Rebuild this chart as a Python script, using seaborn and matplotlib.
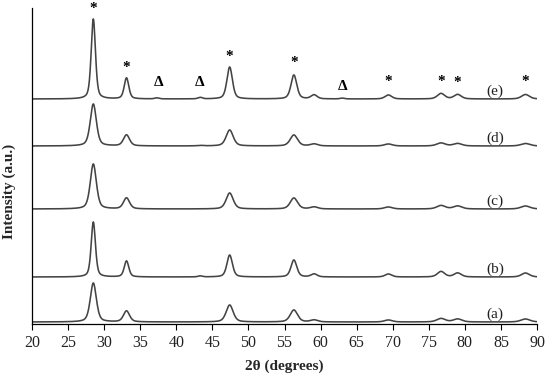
import numpy as np
import pandas as pd
import matplotlib
matplotlib.use("Agg")
import matplotlib.pyplot as plt
import seaborn as sns

# ---- data (intensity in arbitrary units) ----
samples = ["(a)", "(b)", "(c)", "(d)", "(e)"]
offsets = [2, 47, 115, 178, 225]
peak_pos = [28.5, 33.1, 47.4, 56.3, 59.1, 69.4, 76.7, 79.0, 88.4, 37.3, 43.3, 63.0]
height_a = [39, 11, 17, 12, 2, 2, 3.5, 3, 3, 0, 0, 0]
height_b = [55, 16, 22, 17, 3, 3, 5.5, 4, 4, 0, 1, 0]
height_c = [45, 11, 16, 11, 2, 2, 3.5, 3, 3, 0, 0, 0]
height_d = [42, 11, 16, 11, 2, 2, 3, 2.5, 2.5, 0, 0.5, 0]
height_e = [80, 21, 32, 24, 4, 4, 5.5, 4.5, 4.5, 1, 1.5, 0.8]
fwhm_a = [1.0, 1.0, 1.15, 1.2, 1.2, 1.3, 1.4, 1.4, 1.5, 1.0, 1.0, 1.0]
fwhm_b = [0.7, 0.75, 0.9, 0.95, 1.0, 1.1, 1.2, 1.2, 1.3, 0.7, 0.7, 0.7]
fwhm_c = [1.0, 1.0, 1.15, 1.2, 1.2, 1.3, 1.4, 1.4, 1.5, 1.0, 1.0, 1.0]
fwhm_d = [1.0, 1.0, 1.15, 1.2, 1.2, 1.3, 1.4, 1.4, 1.5, 1.0, 1.0, 1.0]
fwhm_e = [0.7, 0.75, 0.9, 0.95, 1.0, 1.1, 1.2, 1.2, 1.3, 0.7, 0.7, 0.7]
heights = [height_a, height_b, height_c, height_d, height_e]
fwhms = [fwhm_a, fwhm_b, fwhm_c, fwhm_d, fwhm_e]

star_pos = [28.5, 33.1, 47.4, 56.3, 69.4, 76.7, 79.0, 88.3]
star_y = [315, 256, 267, 261, 242, 242, 241, 242]
delta_pos = [37.5, 43.2, 63.1]
delta_y = [241, 241, 237]

xticks = list(range(20, 95, 5))

# ---- build profiles from peak parameters ----
x = np.linspace(20, 90, 1400)
frames = []
for name, off, h, w in zip(samples, offsets, heights, fwhms):
    y = np.zeros_like(x)
    for p, hh, ww in zip(peak_pos, h, w):
        g = np.exp(-4 * np.log(2) * ((x - p) / ww) ** 2)
        l = 1 / (1 + 4 * ((x - p) / ww) ** 2)
        y += hh * (0.55 * g + 0.45 * l)
    frames.append(pd.DataFrame({"2theta": x, "I": y + off, "sample": name}))
df = pd.concat(frames, ignore_index=True)

sns.set_theme(style="white")
plt.rcParams["font.family"] = ["Liberation Serif", "DejaVu Serif"]

fig = plt.figure(figsize=(5.5, 3.76), dpi=100)
ax = fig.add_axes([32 / 550, 52 / 376, 505 / 550, 316 / 376])

sns.lineplot(data=df, x="2theta", y="I", hue="sample", units="sample",
             estimator=None, palette=["#444444"] * 5, legend=False,
             linewidth=1.15, ax=ax)

ax.set_xlim(20, 90)
ax.set_ylim(0, 316)
ax.set_xticks(xticks)
ax.set_xticklabels([str(t) for t in xticks], fontsize=11.5, color="#222222")
ax.set_yticks([])
ax.tick_params(axis="x", direction="out", length=4, width=0.8, color="black",
               bottom=True, pad=4)
for s in ["top", "right"]:
    ax.spines[s].set_visible(False)
for s in ["left", "bottom"]:
    ax.spines[s].set_color("black")
    ax.spines[s].set_linewidth(0.9)

ax.set_xlabel("2θ (degrees)", fontsize=11, fontweight="bold", labelpad=6)
ax.set_ylabel("Intensity (a.u.)", fontsize=11, fontweight="bold")
ax.yaxis.set_label_coords(-0.031, 0.42)

for name, off in zip(samples, offsets):
    ax.text(84.2, off + 8, name, fontsize=11, ha="center", va="center",
            color="#222222")

for p, yy in zip(star_pos, star_y):
    ax.text(p, yy, "*", fontsize=11, fontweight="bold", ha="center",
            va="center", color="black")
for p, yy in zip(delta_pos, delta_y):
    ax.text(p, yy, "Δ", fontsize=11, fontweight="bold", ha="center",
            va="center", color="black")

fig.savefig("out.png", dpi=100)
